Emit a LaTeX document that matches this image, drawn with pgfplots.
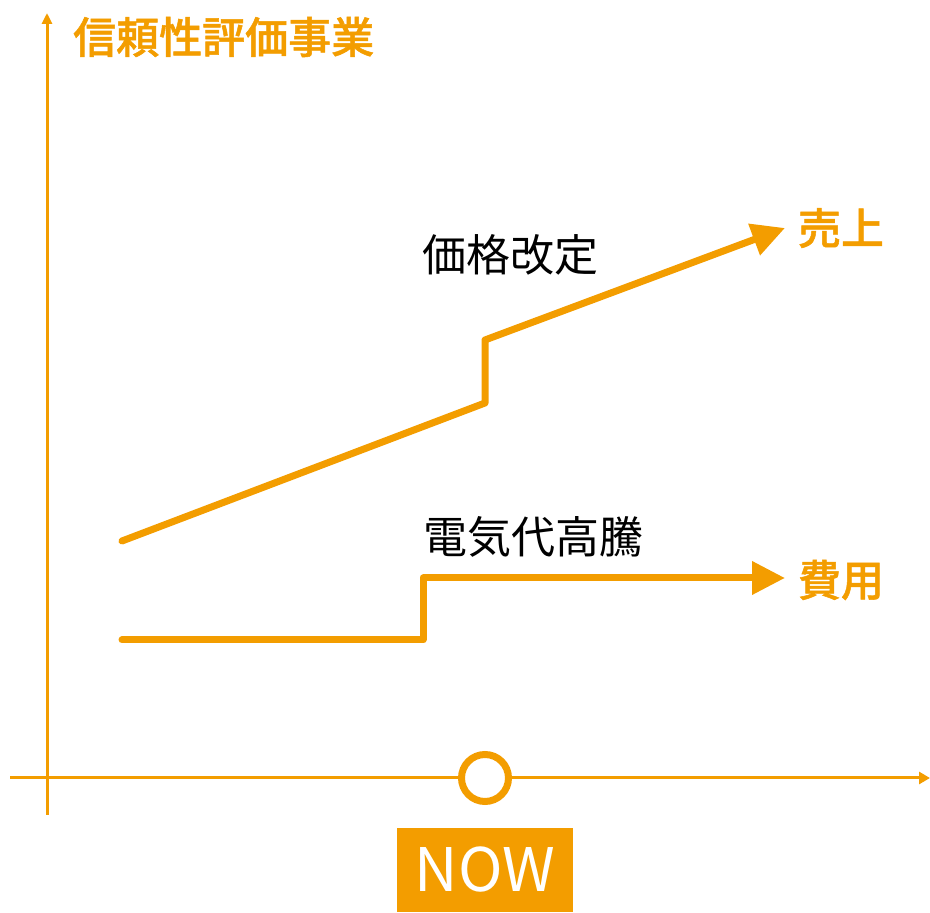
\documentclass[border=0pt]{standalone}
\usepackage{pgfplots}
\pgfplotsset{compat=1.18}
\usetikzlibrary{arrows.meta}
\usepackage{fontspec}
\newfontfamily\jp{Noto Sans CJK JP}
\newfontfamily\jpm{Noto Sans CJK JP Medium}[FakeBold=1.2]
\definecolor{org}{RGB}{243,157,0}
\begin{document}
\begin{tikzpicture}
\begin{axis}[width=930pt,height=913pt,scale only axis,
  xmin=0,xmax=930,ymin=0,ymax=913,hide axis,clip=false]
% axes
\addplot[org,line width=3pt,-{Triangle[length=11pt,width=12pt]}] coordinates {(10,135) (930,135)};
\addplot[org,line width=3pt,-{Triangle[length=11pt,width=10pt]}] coordinates {(47,98) (47,900)};
% sales
\addplot[org,line width=7pt,line join=round,line cap=round,-{Triangle[length=33pt,width=32pt,line cap=butt]}] coordinates {(122,372) (485,510) (485,573) (785,685)};
% cost
\addplot[org,line width=7pt,line join=round,line cap=round,-{Triangle[length=33pt,width=32pt,line cap=butt]}] coordinates {(122,273) (423,273) (423,335) (785,335)};
% now circle
\addplot[org,line width=7pt,mark=*,mark size=23.5pt,mark options={fill=white,line width=7pt},only marks] coordinates {(485,135)};
\node[anchor=west,text=org,font=\jpm\fontsize{43}{43}\selectfont,inner sep=0pt] at (axis cs:73,876) {信頼性評価事業};
\node[text=black,font=\jp\fontsize{44}{44}\selectfont,inner sep=0pt] at (axis cs:510,658) {価格改定};
\node[text=black,font=\jp\fontsize{44}{44}\selectfont,inner sep=0pt] at (axis cs:533,376) {電気代高騰};
\node[text=org,font=\jpm\fontsize{43}{43}\selectfont,inner sep=0pt] at (axis cs:841,685) {売上};
\node[text=org,font=\jpm\fontsize{43}{43}\selectfont,inner sep=0pt] at (axis cs:841,333) {費用};
\node[fill=org,minimum width=176pt,minimum height=84pt,inner sep=0pt,text=white,font=\jp\fontsize{60}{60}\selectfont] at (axis cs:485,43) {NOW};
\end{axis}
\pgfresetboundingbox
\path[use as bounding box] (current axis.south west) rectangle (current axis.north east);
\end{tikzpicture}
\end{document}
